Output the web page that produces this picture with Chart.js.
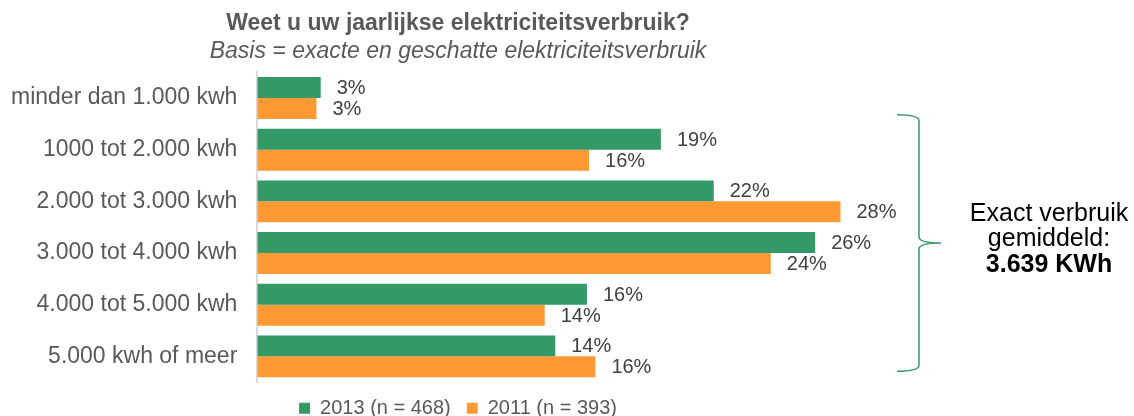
<!DOCTYPE html>
<html>
<head>
<meta charset="utf-8">
<title>Weet u uw jaarlijkse elektriciteitsverbruik?</title>
<script src="https://cdn.jsdelivr.net/npm/chart.js@4.4.1/dist/chart.umd.min.js"></script>
<style>
  body { margin: 0; background: #fff; }
  #wrap { position: relative; width: 1134px; height: 416px; }
</style>
</head>
<body>
<div id="wrap"><canvas id="myChart"></canvas></div>
<script>
// Data (percentages)
const categories = ['minder dan 1.000 kwh', '1000 tot 2.000 kwh', '2.000 tot 3.000 kwh',
                    '3.000 tot 4.000 kwh', '4.000 tot 5.000 kwh', '5.000 kwh of meer'];
const values2013 = [3.0, 19.1, 21.6, 26.4, 15.6, 14.1];
const values2011 = [2.8, 15.7, 27.6, 24.3, 13.6, 16.0];
const seriesNames = ['2013 (n = 468)', '2011 (n = 393)'];
const noteLines = ['Exact verbruik', 'gemiddeld:', '3.639 KWh'];

const FONT = '"Liberation Sans", Arial, sans-serif';
Chart.defaults.font.family = FONT;

// percentage labels next to each bar
const barLabels = {
    id: 'barLabels',
    afterDatasetsDraw(chart) {
        const ctx = chart.ctx;
        ctx.save();
        ctx.font = '20px ' + FONT;
        ctx.fillStyle = '#404040';
        ctx.textAlign = 'left';
        ctx.textBaseline = 'middle';
        chart.data.datasets.forEach(function(ds, i) {
            chart.getDatasetMeta(i).data.forEach(function(bar, j) {
                ctx.fillText(Math.round(ds.data[j]) + '%', bar.x + 16, bar.y + 1);
            });
        });
        ctx.restore();
    }
};

// curly brace and the average note on the right
const braceNote = {
    id: 'braceNote',
    afterDraw(chart) {
        const ctx = chart.ctx;
        const y = chart.scales.y;
        const top = y.getPixelForValue(1) - 35;
        const bottom = y.getPixelForValue(5) + 15;
        const mid = (top + bottom) / 2;
        const x = 919, left = 897, tip = 941;

        ctx.save();
        ctx.strokeStyle = '#339966';
        ctx.lineWidth = 1.5;
        ctx.beginPath();
        ctx.moveTo(left, top);
        ctx.quadraticCurveTo(x, top, x, top + 6);
        ctx.lineTo(x, mid - 6);
        ctx.quadraticCurveTo(x, mid, tip, mid);
        ctx.quadraticCurveTo(x, mid, x, mid + 6);
        ctx.lineTo(x, bottom - 6);
        ctx.quadraticCurveTo(x, bottom, left, bottom);
        ctx.stroke();

        ctx.fillStyle = '#000';
        ctx.textAlign = 'center';
        ctx.textBaseline = 'alphabetic';
        ctx.font = '25px ' + FONT;
        ctx.fillText(noteLines[0], 1049, 221);
        ctx.fillText(noteLines[1], 1049, 246);
        ctx.font = 'bold 25px ' + FONT;
        ctx.fillText(noteLines[2], 1049, 272);
        ctx.restore();
    }
};

const ctx = document.getElementById('myChart').getContext('2d');
const myChart = new Chart(ctx, {
    type: 'bar',
    data: {
        labels: categories,
        datasets: [{
            label: seriesNames[0],
            data: values2013,
            backgroundColor: '#339966',
            borderWidth: 0
        }, {
            label: seriesNames[1],
            data: values2011,
            backgroundColor: '#ff9933',
            borderWidth: 0
        }]
    },
    options: {
        indexAxis: 'y',
        responsive: true,
        maintainAspectRatio: false,
        animation: false,
        categoryPercentage: 0.81,
        barPercentage: 1.0,
        layout: {
            padding: { left: -9, right: 209, top: 0, bottom: -17 }
        },
        scales: {
            x: {
                display: false,
                min: 0,
                max: 31.6
            },
            y: {
                grid: { display: false, drawTicks: false },
                border: { display: true, color: '#d9d9d9', width: 2 },
                ticks: {
                    color: '#595959',
                    padding: 20,
                    font: { size: 23 }
                }
            }
        },
        plugins: {
            title: {
                display: true,
                text: 'Weet u uw jaarlijkse elektriciteitsverbruik?',
                color: '#595959',
                font: { size: 23, weight: 'bold' },
                padding: { top: 10, bottom: 0 }
            },
            subtitle: {
                display: true,
                text: 'Basis = exacte en geschatte elektriciteitsverbruik',
                color: '#595959',
                font: { size: 23, style: 'italic' },
                padding: { top: 0, bottom: 7 }
            },
            legend: {
                position: 'bottom',
                labels: {
                    color: '#595959',
                    boxWidth: 11,
                    boxHeight: 11,
                    padding: 16,
                    font: { size: 20 }
                }
            },
            tooltip: { enabled: false }
        }
    },
    plugins: [barLabels, braceNote]
});
</script>
</body>
</html>
